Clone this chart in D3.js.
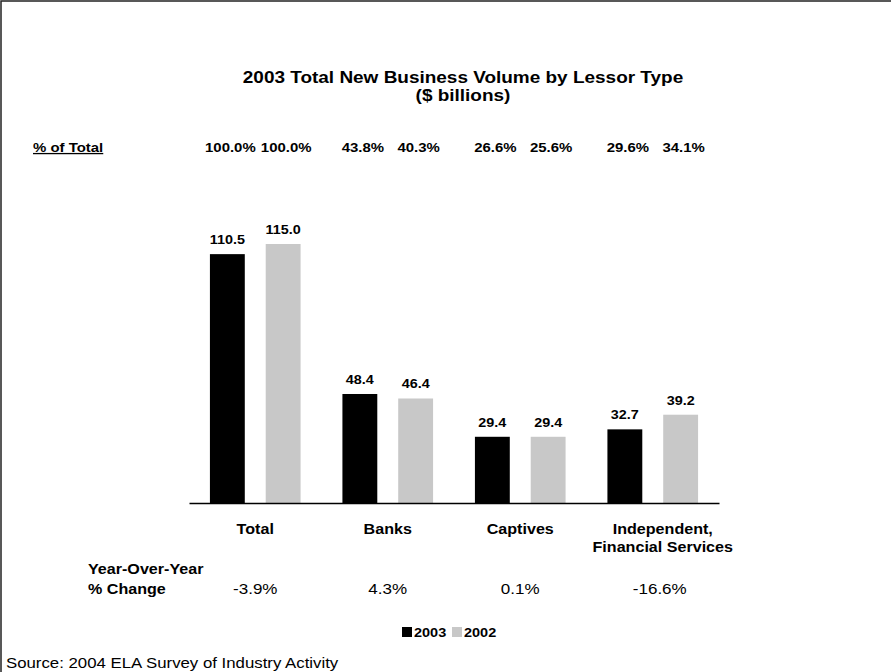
<!DOCTYPE html>
<html>
<head>
<meta charset="utf-8">
<script src="https://cdn.jsdelivr.net/npm/d3@7"></script>
<style>
  html, body { margin: 0; padding: 0; background: #fff; }
  svg { display: block; font-family: "Liberation Sans", Arial, sans-serif; }
</style>
</head>
<body>
<svg id="chart" width="891" height="672"></svg>
<script>
// Lessor types and new business volume ($ billions)
const categories = ["Total", "Banks", "Captives", "Independent, Financial Services"];
const categoryLines = [["Total"], ["Banks"], ["Captives"], ["Independent,", "Financial Services"]];
const series = ["2003", "2002"];
const values2003 = [110.5, 48.4, 29.4, 32.7];
const values2002 = [115.0, 46.4, 29.4, 39.2];
const share2003 = ["100.0%", "43.8%", "26.6%", "29.6%"];
const share2002 = ["100.0%", "40.3%", "25.6%", "34.1%"];
const yoyChange = ["-3.9%", "4.3%", "0.1%", "-16.6%"];
const seriesColors = ["#000000", "#c8c8c8"];

const svg = d3.select("#chart");
const W = 891, H = 672;
const SX = 1.15; // horizontal stretch applied to all lettering

// Places a horizontally stretched text at (x, y)
function label(parent, x, y, size, txt, opts = {}) {
  const t = parent.append("text")
    .attr("transform", `translate(${x},${y}) scale(${opts.sx || SX},1)`)
    .attr("font-size", size)
    .attr("font-weight", opts.bold === false ? "normal" : "bold")
    .attr("text-anchor", opts.anchor || "start")
    .text(txt);
  if (opts.underline) t.attr("text-decoration", "underline");
  return t;
}

// Frame
svg.append("rect")
  .attr("x", 1).attr("y", 1).attr("width", W + 10).attr("height", H + 10)
  .attr("fill", "none").attr("stroke", "#222").attr("stroke-width", 1.5);

// Title
label(svg, 463, 83, 16.5, "2003 Total New Business Volume by Lessor Type", { anchor: "middle" });
label(svg, 463, 101, 16.5, "($ billions)", { anchor: "middle" });

// Scales
const plot = { left: 189, right: 719, bottom: 503 };
const x0 = d3.scaleBand().domain(categories).range([plot.left, plot.right]).padding(0);
const x1 = d3.scaleBand().domain(series).range([0, x0.bandwidth()])
  .paddingInner(0.375).paddingOuter(0.375);
const y = d3.scaleLinear().domain([0, 115]).range([plot.bottom, plot.bottom - 259]);

const rows = categories.map((c, i) => ({
  cat: c, i,
  vals: [
    { s: "2003", v: values2003[i], share: share2003[i] },
    { s: "2002", v: values2002[i], share: share2002[i] }
  ]
}));

const groups = svg.append("g").selectAll("g").data(rows).join("g")
  .attr("transform", d => `translate(${x0(d.cat)},0)`);

// Bars
groups.selectAll("rect").data(d => d.vals).join("rect")
  .attr("x", d => x1(d.s))
  .attr("width", x1.bandwidth())
  .attr("y", d => y(d.v))
  .attr("height", d => y(0) - y(d.v))
  .attr("fill", (d, j) => seriesColors[j]);

// Value labels and % of Total row
groups.each(function (row) {
  const g = d3.select(this);
  row.vals.forEach(d => {
    const cx = x1(d.s) + x1.bandwidth() / 2;
    label(g, cx, y(d.v) - 10, 12.5, d.v.toFixed(1), { anchor: "middle" });
    label(g, cx + 3, 152, 13, d.share, { anchor: "middle" });
  });
});

label(svg, 33, 152, 13, "% of Total", { underline: true });

// Baseline axis
const xAxis = d3.axisBottom(x0).tickSize(0).tickFormat("");
const axisG = svg.append("g").attr("transform", `translate(0,${plot.bottom})`).call(xAxis);
axisG.select(".domain").attr("stroke", "#000").attr("stroke-width", 1.5);

// Category labels and year-over-year change
const labelShift = [0, 0, 0, 10];
const yoyShift = [0, 0, 0, 7];
groups.each(function (row) {
  const g = d3.select(this);
  const cx = x0.bandwidth() / 2;
  categoryLines[row.i].forEach((line, k) => {
    label(g, cx + labelShift[row.i], 534 + k * 18, 14, line, { anchor: "middle" });
  });
  label(g, cx + yoyShift[row.i], 594, 14.8, yoyChange[row.i], { anchor: "middle", bold: false });
});

label(svg, 88, 574, 14, "Year-Over-Year");
label(svg, 88, 594, 14, "% Change");

// Legend
const legend = svg.append("g").attr("transform", "translate(402,627)");
const lg = legend.selectAll("g").data(series).join("g")
  .attr("transform", (d, i) => `translate(${i * 50},0)`);
lg.append("rect").attr("width", 10).attr("height", 10).attr("fill", (d, i) => seriesColors[i]);
lg.each(function (d) { label(d3.select(this), 12, 10, 12.6, d); });

// Source
label(svg, 6, 668, 14, "Source: 2004 ELA Survey of Industry Activity", { bold: false, sx: 1.2 });
</script>
</body>
</html>
